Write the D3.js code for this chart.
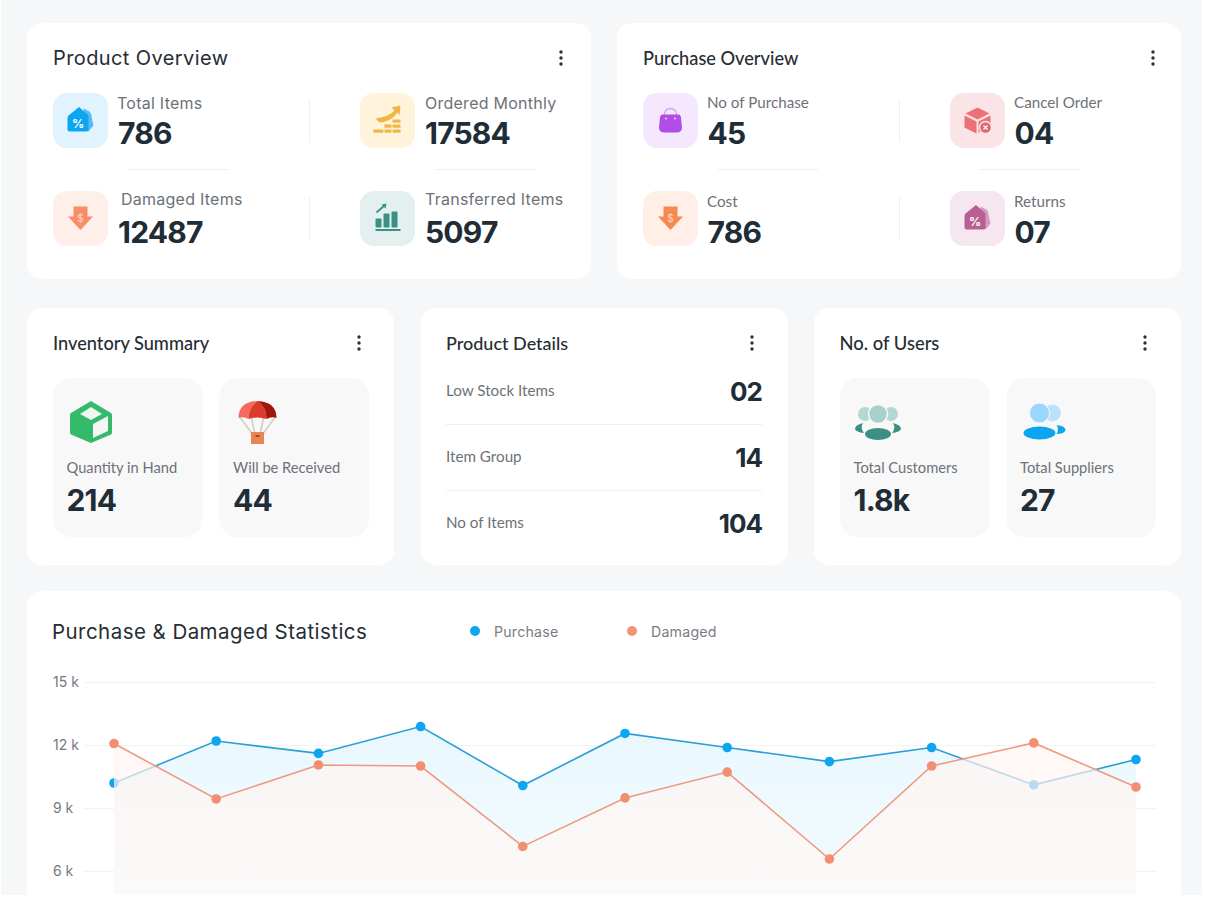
<!DOCTYPE html>
<html>
<head>
<meta charset="utf-8">
<script src="https://cdn.jsdelivr.net/npm/d3@7/dist/d3.min.js"></script>
<style>
  html, body { margin: 0; padding: 0; background: #fff; }
  svg { display: block; }
  text { font-family: Inter, sans-serif; }
</style>
</head>
<body>
<svg id="board" width="1208" height="904"></svg>
<script>
const overviewLabels = ["Total Items", "Ordered Monthly", "Damaged Items", "Transferred Items"];
const overviewValues = ["786", "17584", "12487", "5097"];
const purchaseLabels = ["No of Purchase", "Cancel Order", "Cost", "Returns"];
const purchaseValues = ["45", "04", "786", "07"];
const inventoryLabels = ["Quantity in Hand", "Will be Received"];
const inventoryValues = ["214", "44"];
const detailLabels = ["Low Stock Items", "Item Group", "No of Items"];
const detailValues = ["02", "14", "104"];
const userLabels = ["Total Customers", "Total Suppliers"];
const userValues = ["1.8k", "27"];

// thousands
const purchaseSeries = [10.19, 12.19, 11.6, 12.88, 10.07, 12.55, 11.88, 11.21, 11.88, 10.1, 11.31];
const damagedSeries = [12.07, 9.43, 11.05, 11.0, 7.17, 9.48, 10.71, 6.57, 11.0, 12.1, 10.0];
const yTicks = [6, 9, 12, 15];

const svg = d3.select("#board");
const dark = "#212d36";
const grey = "#6d7178";
const poppins = "Inter, sans-serif";
const nunito = "Lato, sans-serif";

svg.append("rect").attr("x", 1).attr("y", 0).attr("width", 1201).attr("height", 895).attr("fill", "#f6f7f9");

function card(x, y, w, h) {
  svg.append("rect").attr("x", x).attr("y", y).attr("width", w).attr("height", h).attr("rx", 15)
    .attr("fill", "#fff");
}

function label(x, y, str, size, color, weight, font, spacing) {
  return svg.append("text").attr("x", x).attr("y", y).text(str)
    .attr("font-size", size).attr("fill", color).attr("font-weight", weight || 400)
    .style("font-family", font || poppins).style("letter-spacing", (spacing || 0) + "px");
}

function menuDots(x, y) {
  svg.selectAll(null).data([-6, 0, 6]).enter().append("circle")
    .attr("cx", x).attr("cy", d => y + d).attr("r", 1.7).attr("fill", "#2b3238");
}

function rule(x1, y1, x2, y2) {
  svg.append("line").attr("x1", x1).attr("y1", y1).attr("x2", x2).attr("y2", y2)
    .attr("stroke", "#eeeff1").attr("stroke-width", 1);
}

function value(x, y, str, anchor) {
  return label(x, y, str, 30, dark, 700, poppins, -0.8).attr("text-anchor", anchor || "start");
}

function tagIcon(g, color, back) {
  g.append("path").attr("d", "M3,-12 L9,-9 Q11,-7 11,-4 L13,5 L8,11 L4,8 Z").attr("fill", back);
  g.append("path").attr("d", "M-1.5,-13.5 L-12,-5 Q-13,-4 -13,-2 L-13,9 Q-13,11 -11,11 L6,11 Q8,11 8,9 L8,-4 Q8,-5 7,-6 Z").attr("fill", color);
  g.append("text").attr("x", -2.5).attr("y", 7).attr("text-anchor", "middle").attr("font-size", 12)
    .attr("font-weight", 700).attr("fill", "#fff").text("%");
}

function arrowIcon(g, color) {
  g.append("path").attr("d", "M-7,-12 L7,-12 L7,-2 L12.5,-2 L0,11.5 L-12.5,-2 L-7,-2 Z").attr("fill", color);
  g.append("text").attr("y", 3).attr("text-anchor", "middle").attr("font-size", 10)
    .attr("fill", "#ffd9c8").text("$");
}

function coinsIcon(g) {
  const c = "#f2b544";
  g.append("path").attr("d", "M-12,-2 Q2,-4 7,-10 L4,-13 L13,-15 L12,-5 L10,-8 Q4,1 -8,2 Z").attr("fill", c);
  [[-14, 9, 10], [-3, 9, 7], [5, 9, 8], [-3, 4, 7], [5, 4, 8], [5, -1, 8]].forEach(r => {
    g.append("rect").attr("x", r[0]).attr("y", r[1]).attr("width", r[2]).attr("height", 3.2).attr("fill", c);
  });
}

function barsIcon(g) {
  const c = "#3a9183";
  [[-12, 0, 6, 9], [-4, -5, 6, 14], [4, -7, 6, 16]].forEach(r => {
    g.append("rect").attr("x", r[0]).attr("y", r[1]).attr("width", r[2]).attr("height", r[3]).attr("rx", 1).attr("fill", c);
  });
  g.append("rect").attr("x", -12).attr("y", 10.5).attr("width", 25).attr("height", 2).attr("fill", c);
  g.append("path").attr("d", "M-11,-6 L-3,-13").attr("stroke", c).attr("stroke-width", 1.8).attr("fill", "none");
  g.append("path").attr("d", "M-6,-14 L-1,-15 L-2,-10 Z").attr("fill", c);
}

function bagIcon(g) {
  g.append("path").attr("d", "M-6,-5 Q-6,-12 0,-12 Q6,-12 6,-5").attr("fill", "none").attr("stroke", "#d9a2f2").attr("stroke-width", 1.4);
  g.append("path").attr("d", "M-8,-6 L8,-6 Q10,-6 10.5,-3 L11.5,7 Q11.5,12 6,12 L-6,12 Q-11.5,12 -11.5,7 L-10.5,-3 Q-10,-6 -8,-6 Z").attr("fill", "#b24de8");
  g.selectAll(null).data([-4.5, 4.5]).enter().append("circle").attr("cx", d => d).attr("cy", -2).attr("r", 1).attr("fill", "#ecd2fa");
}

function boxIcon(g) {
  const c = "#ec7078";
  g.append("path").attr("d", "M0,-13 L12,-7 L0,-1 L-12,-7 Z").attr("fill", c);
  g.append("path").attr("d", "M-13,-5 L-1,1 L-1,13 L-13,7 Z").attr("fill", c);
  g.append("path").attr("d", "M1,1 L13,-5 L13,3 L4,8 L1,13 Z").attr("fill", c);
  g.append("circle").attr("cx", 8).attr("cy", 7).attr("r", 6).attr("fill", "#dd6870").attr("stroke", "#fbe4e6").attr("stroke-width", 1.4);
  g.append("path").attr("d", "M6,5 L10,9 M10,5 L6,9").attr("stroke", "#fff").attr("stroke-width", 1.2);
}

function cubeIcon(g) {
  g.append("path").attr("d", "M0,-21 L20,-9 Q21,-8.5 21,-7 L21,10 Q21,12 20,12.5 L0,21 L-20,12.5 Q-21,12 -21,10 L-21,-7 Q-21,-8.5 -20,-9 Z").attr("fill", "#35b96b");
  g.append("path").attr("d", "M0,-15 L11,-8 L0,-2 L-11,-8 Z").attr("fill", "#eef8f1");
  g.append("path").attr("d", "M2,2 L17,-6 L17,9 L2,16 Z").attr("fill", "#f4f6f5");
}

function chuteIcon(g) {
  g.append("path").attr("d", "M-17,-4 L-3,15 M17,-4 L3,15 M-6,-4 L-2,15 M6,-4 L2,15").attr("stroke", "#d8cfc8").attr("stroke-width", 1.8);
  g.append("path").attr("d", "M-19,-4 Q-19,-20 0,-21 Q-9,-15 -9,-3 Q-14,-6 -19,-4 Z").attr("fill", "#f46a5d");
  g.append("path").attr("d", "M0,-21 Q-9,-15 -9,-3 Q0,-6 9,-3 Q9,-15 0,-21 Z").attr("fill", "#dc3a2c");
  g.append("path").attr("d", "M19,-4 Q19,-20 0,-21 Q9,-15 9,-3 Q14,-6 19,-4 Z").attr("fill", "#a4140f");
  g.append("rect").attr("x", -6.5).attr("y", 10).attr("width", 13).attr("height", 12).attr("fill", "#e98552");
  g.append("rect").attr("x", -2).attr("y", 13).attr("width", 4).attr("height", 2).attr("fill", "#9a4a26");
}

function usersIcon(g) {
  g.append("circle").attr("cx", -13).attr("cy", -8).attr("r", 7).attr("fill", "#b5d7d2");
  g.append("circle").attr("cx", 13).attr("cy", -8).attr("r", 7).attr("fill", "#b5d7d2");
  g.append("circle").attr("cx", 0).attr("cy", -8).attr("r", 9.5).attr("fill", "#a9d0cb").attr("stroke", "#f8f8f9").attr("stroke-width", 1.5);
  g.append("path").attr("d", "M-15,1 Q-23,3 -23,7 Q-22,10 -14,11 Q-18,6 -15,1 Z M15,1 Q23,3 23,7 Q22,10 14,11 Q18,6 15,1 Z").attr("fill", "#3a9183");
  g.append("ellipse").attr("cy", 12).attr("rx", 13).attr("ry", 6).attr("fill", "#3a9183");
}

function suppliersIcon(g) {
  g.append("circle").attr("cx", 8).attr("cy", -9).attr("r", 8.5).attr("fill", "#bde1fb");
  g.append("circle").attr("cx", -5).attr("cy", -9).attr("r", 10).attr("fill", "#9ad6fd").attr("stroke", "#f8f8f9").attr("stroke-width", 1);
  g.append("path").attr("d", "M12,3 Q21,4 21,8 Q20,12 12,12 Q15,7 12,3 Z").attr("fill", "#0ea5f0");
  g.append("ellipse").attr("cx", -5).attr("cy", 11).attr("rx", 16).attr("ry", 6.5).attr("fill", "#0ea5f0");
}

function iconTile(x, y, bg, draw) {
  svg.append("rect").attr("x", x).attr("y", y).attr("width", 55).attr("height", 55).attr("rx", 14).attr("fill", bg);
  draw(svg.append("g").attr("transform", `translate(${x + 27.5},${y + 27.5})`));
}

// top row
card(27, 23, 564, 256);
card(617, 23, 564, 256);
label(53, 65, "Product Overview", 20, "#262d33", 400, poppins, 0.4);
label(643, 65, "Purchase Overview", 18.2, "#262d33", 500, nunito);
menuDots(561, 58);
menuDots(1153, 58);

const overviewIcons = [
  ["#e0f3fe", g => tagIcon(g, "#0ea5f0", "#55bdf2")],
  ["#fff3dc", coinsIcon],
  ["#ffefe9", g => arrowIcon(g, "#f98d69")],
  ["#e3f0ef", barsIcon]
];
const purchaseIcons = [
  ["#f5e7fd", bagIcon],
  ["#fbe4e6", boxIcon],
  ["#ffefe6", g => arrowIcon(g, "#f58a50")],
  ["#f6e6f0", g => tagIcon(g, "#b95f93", "#d59abd")]
];

overviewLabels.forEach((d, i) => {
  const col = i % 2, row = i >> 1;
  const x = 53 + col * 307, y = 93 + row * 98;
  iconTile(x, y, overviewIcons[i][0], overviewIcons[i][1]);
  const nudge = i === 2 ? 4 : 0;
  label(x + 64 + nudge + (col ? 1 : 0), y + 16 - row * 2, d, 16, grey, 400, poppins, 0.25);
  value(x + 65, y + 51 + row, overviewValues[i]);
});

purchaseLabels.forEach((d, i) => {
  const col = i % 2, row = i >> 1;
  const x = 643 + col * 307, y = 93 + row * 98;
  iconTile(x, y, purchaseIcons[i][0], purchaseIcons[i][1]);
  label(x + 64, y + 15 + row, d, 15.2, grey, 400, nunito);
  value(x + 64.5, y + 51 + row, purchaseValues[i]);
});

[[128, 228], [435, 535], [718, 818], [980, 1080]].forEach(d => rule(d[0], 169.5, d[1], 169.5));
[309.5, 899.5].forEach(x => {
  rule(x, 99, x, 142);
  rule(x, 197, x, 240);
});

// middle row
[[27, 367], [421, 367], [814, 367]].forEach(d => card(d[0], 308, d[1], 257));
label(53, 350, "Inventory Summary", 18.2, "#262d33", 500, nunito);
label(446, 350, "Product Details", 18, "#262d33", 500, nunito);
label(839.5, 350, "No. of Users", 18.4, "#262d33", 500, nunito);
[359, 752, 1145].forEach(x => menuDots(x, 343));

function statTiles(x0, labels, values, icons) {
  labels.forEach((d, i) => {
    const x = x0 + i * 166.5;
    svg.append("rect").attr("x", x).attr("y", 378).attr("width", 149.5).attr("height", 159).attr("rx", 18).attr("fill", "#f8f8f9");
    icons[i](svg.append("g").attr("transform", `translate(${x + 38},422)`));
    label(x + 13.5, 473, d, 14.7, grey, 400, nunito);
    value(x + 13.5, 511, values[i]);
  });
}
statTiles(53, inventoryLabels, inventoryValues, [cubeIcon, chuteIcon]);
statTiles(840, userLabels, userValues, [usersIcon, suppliersIcon]);

detailLabels.forEach((d, i) => {
  label(446, 396 + i * 66, d, 15.2, grey, 400, nunito);
  value(762, 401 + i * 66, detailValues[i], "end").attr("font-size", 26).style("letter-spacing", "-1px");
  if (i < 2) rule(446, 424.5 + i * 66, 762, 424.5 + i * 66);
});

// statistics card
card(27, 591, 1154, 320);
label(52, 639, "Purchase & Damaged Statistics", 20.5, "#262d33", 400, poppins, 0.45);
[["Purchase", "#0ea5f0", 475], ["Damaged", "#f59375", 632]].forEach(d => {
  svg.append("circle").attr("cx", d[2]).attr("cy", 631).attr("r", 5).attr("fill", d[1]);
  label(d[2] + 19, 637, d[0], 14.2, "#7a7d83", 400, poppins, 0.2);
});

const defs = svg.append("defs");
defs.append("clipPath").attr("id", "plot-clip").append("rect").attr("x", 27).attr("y", 591).attr("width", 1154).attr("height", 303);

function fade(id, top, bottom) {
  const grad = defs.append("linearGradient").attr("id", id).attr("gradientUnits", "userSpaceOnUse")
    .attr("x1", 0).attr("y1", 726).attr("x2", 0).attr("y2", 895);
  grad.append("stop").attr("offset", 0).attr("stop-color", top);
  grad.append("stop").attr("offset", 1).attr("stop-color", bottom);
}
fade("purchase-fill", "#e9f8fe", "#f3fbfe");
fade("damaged-fill", "rgba(255,243,239,.68)", "rgba(255,249,247,.72)");

const x = d3.scaleLinear().domain([0, purchaseSeries.length - 1]).range([114, 1136]);
const y = d3.scaleLinear().domain([0, 15]).range([997, 682]);

const plot = svg.append("g").attr("clip-path", "url(#plot-clip)");

const yAxis = d3.axisLeft(y).tickValues(yTicks).tickSize(-1072).tickFormat(d => d + " k");
const axisG = plot.append("g").attr("transform", "translate(84,0)").call(yAxis);
axisG.select(".domain").remove();
axisG.selectAll(".tick line").attr("stroke", "#f1f2f4");
axisG.selectAll(".tick text").attr("x", -31).attr("text-anchor", "start").attr("dy", "0.35em")
  .attr("font-size", 14).attr("fill", "#75797f").style("font-family", poppins);

const line = d3.line().x((d, i) => x(i)).y(d => y(d));
const area = d3.area().x((d, i) => x(i)).y0(y(0)).y1(d => y(d));

function drawSeries(values, fillId, stroke, dot) {
  plot.append("path").datum(values).attr("d", area).attr("fill", `url(#${fillId})`);
  plot.append("path").datum(values).attr("d", line).attr("fill", "none").attr("stroke", stroke).attr("stroke-width", 1.6);
  plot.selectAll(null).data(values).enter().append("circle")
    .attr("cx", (d, i) => x(i)).attr("cy", d => y(d)).attr("r", 4.8).attr("fill", dot);
}
drawSeries(purchaseSeries, "purchase-fill", "#2a9fd6", "#0ea5f0");
drawSeries(damagedSeries, "damaged-fill", "#ee9a80", "#f28f70");
</script>
</body>
</html>
